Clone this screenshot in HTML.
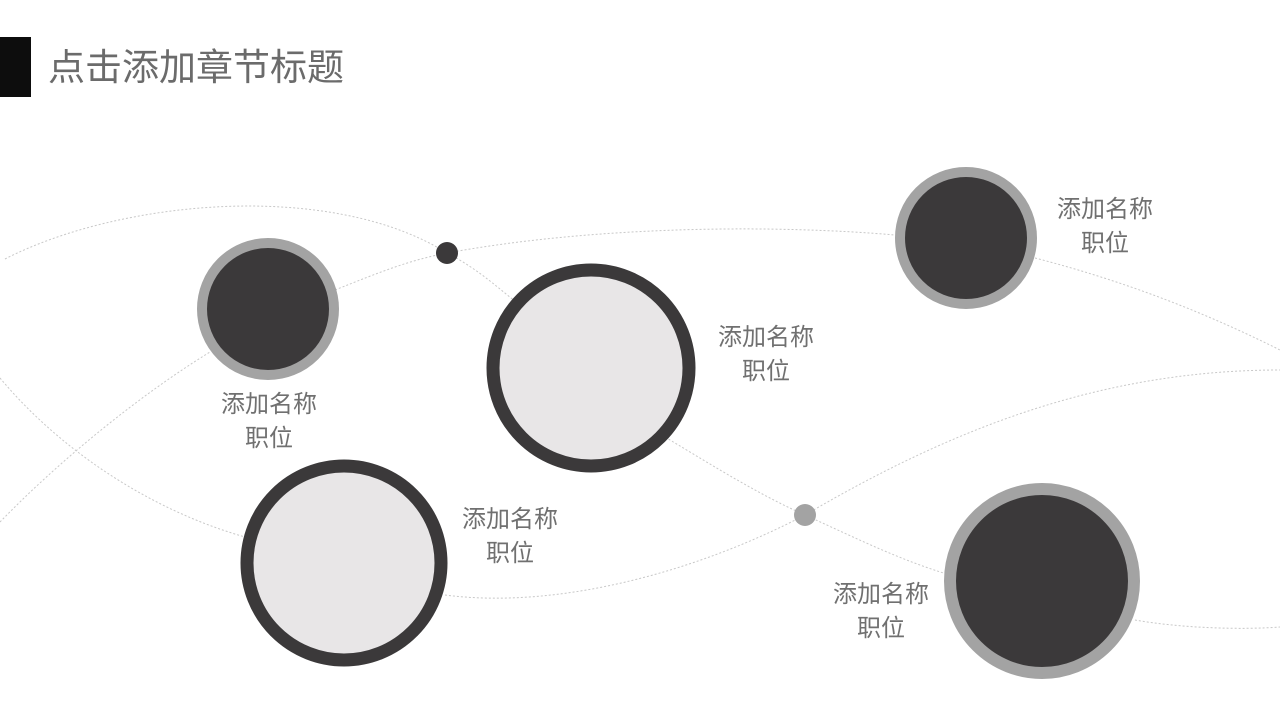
<!DOCTYPE html>
<html><head><meta charset="utf-8"><style>
body{margin:0;width:1280px;height:720px;background:#fff;position:relative;overflow:hidden;font-family:"Liberation Sans","Noto Sans CJK SC",sans-serif}
.bar{position:absolute;left:0;top:37px;width:31px;height:60px;background:#0d0d0d}
.title{position:absolute;left:48px;top:44px;font-size:37px;color:#6b6b6b;line-height:48px}
.lbl{position:absolute;font-size:24px;color:#707070;line-height:34px;text-align:center;width:110px}
</style></head><body>
<svg width="1280" height="720" style="position:absolute;left:0;top:0">
<g fill="none" stroke="#c8c8c8" stroke-width="1" stroke-dasharray="2,2">
<path d="M5,259 C120,200 330,180 447,253 C480,270 500,290 520,305"/>
<path d="M665,437 C720,470 760,495 805,515 C860,540 900,560 950,575"/>
<path d="M1135,620 C1180,628 1240,630 1280,627"/>
<path d="M0,378 C60,450 150,510 245,537"/>
<path d="M445,595 C560,610 700,570 805,515 C950,430 1100,370 1280,370"/>
<path d="M0,522 C60,460 140,395 210,352"/>
<path d="M335,290 C380,272 410,260 447,253 C600,225 780,225 895,235"/>
<path d="M1035,258 C1120,280 1200,310 1280,350"/>
</g>
<circle cx="268" cy="309" r="66" fill="#3b393a" stroke="#a3a3a3" stroke-width="10"/>
<circle cx="966" cy="238" r="66" fill="#3b393a" stroke="#a3a3a3" stroke-width="10"/>
<circle cx="1042" cy="581" r="92" fill="#3b393a" stroke="#a3a3a3" stroke-width="12"/>
<circle cx="591" cy="368" r="98" fill="#e8e6e7" stroke="#3b393a" stroke-width="13"/>
<circle cx="344" cy="563" r="97" fill="#e8e6e7" stroke="#3b393a" stroke-width="13"/>
<circle cx="447" cy="253" r="11" fill="#3b393a"/>
<circle cx="805" cy="515" r="11" fill="#a3a3a3"/>
</svg>
<div class="bar"></div>
<div class="title">点击添加章节标题</div>
<div class="lbl" style="left:214px;top:388px">添加名称<br>职位</div>
<div class="lbl" style="left:711px;top:321px">添加名称<br>职位</div>
<div class="lbl" style="left:1050px;top:193px">添加名称<br>职位</div>
<div class="lbl" style="left:455px;top:503px">添加名称<br>职位</div>
<div class="lbl" style="left:826px;top:578px">添加名称<br>职位</div>
</body></html>
